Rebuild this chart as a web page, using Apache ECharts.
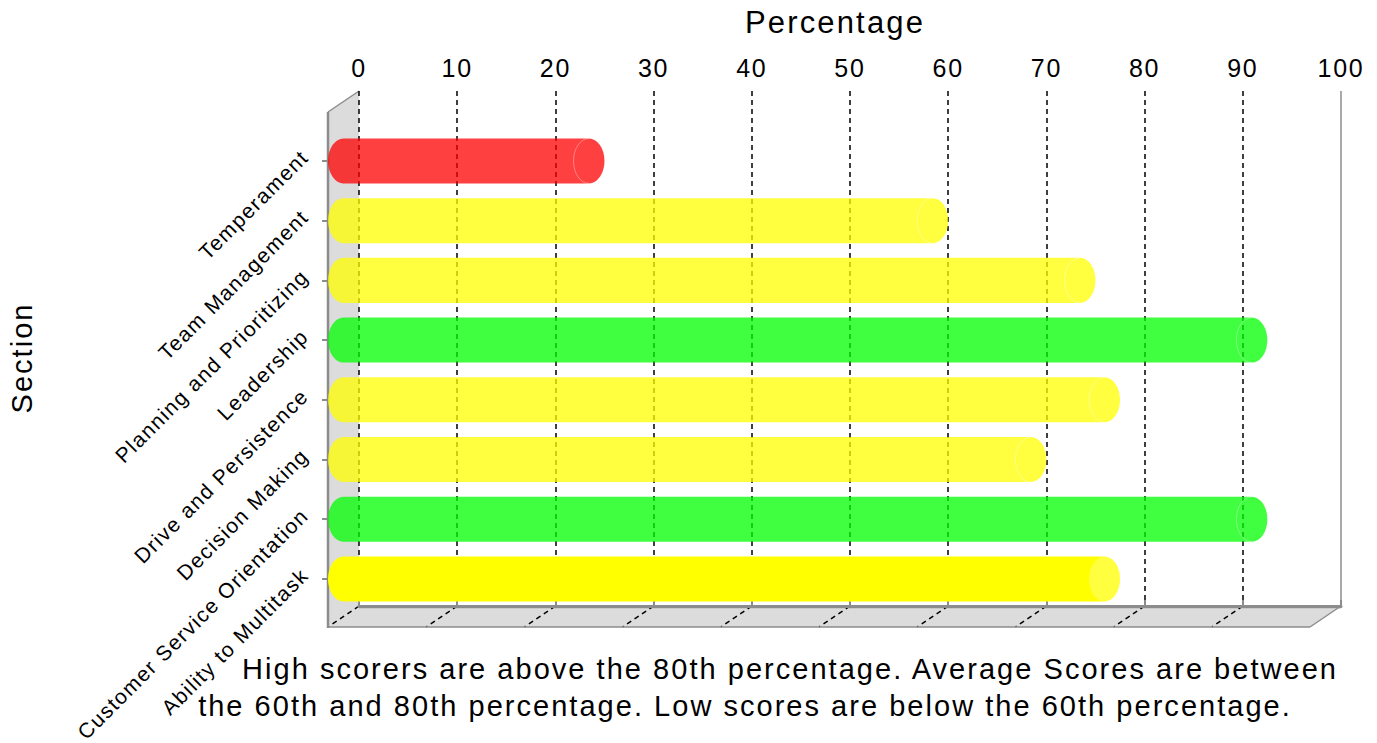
<!DOCTYPE html>
<html>
<head>
<meta charset="utf-8">
<script src="https://cdn.jsdelivr.net/npm/echarts@6/dist/echarts.min.js"></script>
<style>
  html, body { margin: 0; padding: 0; background: #fff; }
  #chart { width: 1377px; height: 743px; }
  #chart svg text { letter-spacing: 0.07em; }
</style>
</head>
<body>
<div id="chart"></div>
<script>
// Section names, top to bottom
const sections = [
  'Temperament',
  'Team Management',
  'Planning and Prioritizing',
  'Leadership',
  'Drive and Persistence',
  'Decision Making',
  'Customer Service Orientation',
  'Ability to Multitask'
];
// Percentage score for each section
const scores = [25, 60, 75, 92.5, 77.5, 70, 92.5, 77.5];
// Percentage axis range and step
const percentMin = 0;
const percentMax = 100;
const percentStep = 10;
// Score bands: below low = red, low..high = yellow, above high = green
const lowScore = 60;
const highScore = 80;
// Section drawn in the active (solid) style
const activeSection = 'Ability to Multitask';
const footerLines = [
  'High scorers are above the 80th percentage. Average Scores are between',
  'the 60th and 80th percentage. Low scores are below the 60th percentage.'
];

// 3D box depth: offset from the back plane to the front plane
const DX = -31, DY = 21;

const chart = echarts.init(document.getElementById('chart'), null, { renderer: 'svg' });

function scoreColor(v, alpha) {
  if (v < lowScore) return 'rgba(255,0,0,' + alpha + ')';
  if (v <= highScore) return 'rgba(255,255,0,' + alpha + ')';
  return 'rgba(0,255,0,' + alpha + ')';
}

function front(p) { return [p[0] + DX, p[1] + DY]; }

// Side wall, floor, floor grid and box edges
function renderFrame(params, api) {
  const tl = api.coord([percentMin, 1]);
  const tr = api.coord([percentMax, 1]);
  const bl = api.coord([percentMin, 0]);
  const br = api.coord([percentMax, 0]);
  const edge = { stroke: '#8c8c8c', lineWidth: 1.5, fill: null };
  const children = [
    { type: 'polygon', shape: { points: [tl, bl, front(bl), front(tl)] }, style: { fill: '#dcdcdc' } },
    { type: 'polygon', shape: { points: [bl, br, front(br), front(bl)] }, style: { fill: '#dcdcdc' } },
    { type: 'line', shape: { x1: bl[0], y1: bl[1] + 1, x2: br[0], y2: br[1] + 1 }, style: { stroke: '#b8b8b8', lineWidth: 3 } }
  ];
  for (let v = percentMin; v < percentMax; v += percentStep) {
    const b = api.coord([v, 0]);
    const f = front(b);
    children.push({ type: 'line', shape: { x1: b[0], y1: b[1], x2: f[0], y2: f[1] },
      style: { stroke: '#000', lineWidth: 1.5, lineDash: [5, 4] } });
  }
  const ftl = front(tl), fbl = front(bl), fbr = front(br);
  children.push(
    { type: 'line', shape: { x1: tl[0], y1: tl[1], x2: ftl[0], y2: ftl[1] }, style: edge },
    { type: 'line', shape: { x1: ftl[0], y1: ftl[1], x2: fbl[0], y2: fbl[1] + 1 }, style: { stroke: '#8c8c8c', lineWidth: 2.5 } },
    { type: 'line', shape: { x1: fbl[0], y1: fbl[1], x2: fbr[0], y2: fbr[1] }, style: edge },
    { type: 'line', shape: { x1: br[0], y1: br[1], x2: fbr[0], y2: fbr[1] }, style: edge },
    { type: 'line', shape: { x1: tr[0], y1: tr[1], x2: br[0], y2: br[1] }, style: edge }
  );
  return { type: 'group', children: children };
}

// Cylinder bar sitting halfway into the box depth
function renderBar(params, api) {
  const v = api.value(0);
  const idx = api.value(1);
  const s = api.coord([percentMin, idx]);
  const e = api.coord([v, idx]);
  const band = api.size([0, 1])[1];
  const rx = -DX / 2;
  const ry = band * 0.377;
  const x0 = s[0] + rx, x1 = e[0] + rx, cy = s[1];
  const top = cy - ry, bot = cy + ry;
  const body = 'M' + x0 + ' ' + top + ' L' + x1 + ' ' + top +
    ' A' + rx + ' ' + ry + ' 0 0 1 ' + x1 + ' ' + bot +
    ' L' + x0 + ' ' + bot +
    ' A' + rx + ' ' + ry + ' 0 0 1 ' + x0 + ' ' + top + ' Z';
  const active = sections[idx] === activeSection;
  const children = [
    { type: 'path', shape: { pathData: body },
      style: { fill: active ? scoreColor(v, 1) : scoreColor(v, 0.75) } }
  ];
  if (active) {
    children.push({ type: 'ellipse', shape: { cx: x1, cy: cy, rx: rx, ry: ry },
      style: { fill: 'rgba(255,255,255,0.25)' } });
  } else {
    children.push({ type: 'path',
      shape: { pathData: 'M' + x1 + ' ' + top + ' A' + rx + ' ' + ry + ' 0 0 0 ' + x1 + ' ' + bot },
      style: { fill: null, stroke: 'rgba(255,255,255,0.35)', lineWidth: 1 } });
  }
  return { type: 'group', children: children };
}

const font = 'Liberation Sans';

chart.setOption({
  animation: false,
  textStyle: { fontFamily: font },
  grid: [
    { left: 359, top: 91, width: 982, height: 515 },
    { left: 328, top: 131.1, width: 982, height: 477.7 }
  ],
  xAxis: [
    {
      gridIndex: 0, type: 'value', position: 'top', z: 2,
      min: percentMin, max: percentMax, interval: percentStep,
      axisLine: { show: true, lineStyle: { color: '#8c8c8c', width: 3 } },
      axisTick: { show: true, length: 6, lineStyle: { color: '#8c8c8c', width: 2 } },
      axisLabel: { fontSize: 25, margin: 11, color: '#000', fontFamily: font },
      splitLine: { show: true, showMinLine: true, showMaxLine: false,
        lineStyle: { color: '#000', width: 1.5, type: [5, 4] } }
    },
    { gridIndex: 1, type: 'value', show: false, min: percentMin, max: percentMax, splitLine: { show: false } }
  ],
  yAxis: [
    { gridIndex: 0, type: 'value', show: false, min: 0, max: 1, splitLine: { show: false } },
    {
      gridIndex: 1, type: 'category', data: sections, inverse: true,
      axisLine: { show: false },
      axisTick: { show: true, alignWithLabel: true, length: 6, lineStyle: { color: '#8c8c8c', width: 2 } },
      axisLabel: { rotate: 45, margin: 16, fontSize: 21, color: '#000', interval: 0,
        verticalAlign: 'bottom', fontFamily: font },
      splitLine: { show: false }
    }
  ],
  series: [
    {
      type: 'custom', xAxisIndex: 0, yAxisIndex: 0, z: 1,
      data: [[0, 0]], renderItem: renderFrame, silent: true
    },
    {
      type: 'custom', xAxisIndex: 1, yAxisIndex: 1, z: 3,
      encode: { x: 0, y: 1 },
      data: scores.map((s, i) => [s, i]),
      renderItem: renderBar
    }
  ],
  graphic: [
    { type: 'text', x: 835, y: 22, style: { text: 'Percentage', font: '31px ' + font, fill: '#000', textAlign: 'center', textVerticalAlign: 'middle' } },
    { type: 'text', x: 22, y: 358, rotation: Math.PI / 2, style: { text: 'Section', font: '29px ' + font, fill: '#000', textAlign: 'center', textVerticalAlign: 'middle' } },
    { type: 'text', x: 790, y: 669, style: { text: footerLines[0], font: '29px ' + font, fill: '#000', textAlign: 'center', textVerticalAlign: 'middle' } },
    { type: 'text', x: 745, y: 706, style: { text: footerLines[1], font: '29px ' + font, fill: '#000', textAlign: 'center', textVerticalAlign: 'middle' } }
  ]
});
</script>
</body>
</html>
